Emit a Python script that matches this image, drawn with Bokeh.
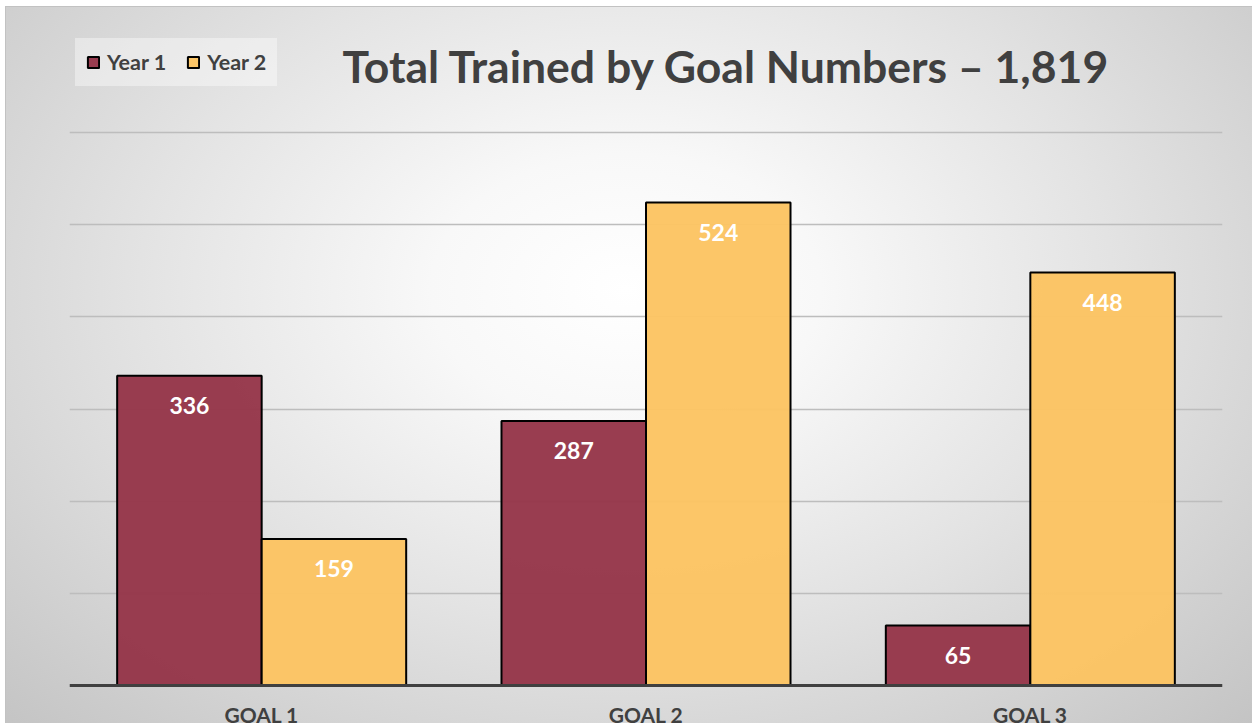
from bokeh.plotting import figure
from bokeh.models import FactorRange, Range1d, FixedTicker, ColumnDataSource, Legend, LegendItem, Label, Span
from bokeh.transform import dodge
from bokeh.core.properties import value
from bokeh.embed import file_html
from bokeh.resources import INLINE

goals = ["GOAL 1", "GOAL 2", "GOAL 3"]
year1 = [336, 287, 65]
year2 = [159, 524, 448]
series_names = ["Year 1", "Year 2"]
title_text = "Total Trained by Goal Numbers \u2013 1,819"
y_ticks = [0, 100, 200, 300, 400, 500, 600]

MAROON = "#953549"
GOLD = "#fcc462"
DARK = "#404040"
FONT = "Lato"

W, H = 1252, 723
AXIS_Y = 685          # pixel row of the value 0
TOP_Y = 132           # pixel row of the value 600
k = (AXIS_Y - TOP_Y) / 600.0

src = ColumnDataSource(dict(goal=goals, y1=year1, y2=year2, zero=[0] * len(goals),
                            t1=[str(v) for v in year1], t2=[str(v) for v in year2]))

p = figure(x_range=FactorRange(*goals, range_padding=0),
           y_range=Range1d(-(H - AXIS_Y) / k, AXIS_Y / k),
           width=W, height=H, output_backend="svg", toolbar_location=None,
           min_border_left=69, min_border_right=30, min_border_top=0, min_border_bottom=0)

p.styles = {"background": (
    "linear-gradient(#ffffff,#ffffff) 0 0/100% 6px no-repeat, "
    "linear-gradient(#ffffff,#ffffff) 0 0/5px 100% no-repeat, "
    "linear-gradient(#c2c2c2,#c2c2c2) 5px 6px/100% 1px no-repeat, "
    "linear-gradient(#c2c2c2,#c2c2c2) 5px 6px/1px 100% no-repeat, "
    "radial-gradient(ellipse farthest-corner at 50% 40%, #ffffff 0%, #f8f8f8 22%, #e3e3e3 55%, #c4c4c4 100%)")}
p.border_fill_color = None
p.background_fill_color = None
p.outline_line_color = None

p.xaxis.visible = False
p.yaxis.visible = False
p.ygrid.ticker = FixedTicker(ticks=y_ticks)
p.ygrid.grid_line_color = "#bdbdbd"
p.ygrid.grid_line_width = 1.5
p.xgrid.visible = False

bw = 0.376
r1 = p.vbar(x=dodge("goal", -bw / 2, range=p.x_range), top="y1", width=bw, source=src,
            fill_color=MAROON, fill_alpha=0.96, line_color="black", line_width=2)
r2 = p.vbar(x=dodge("goal", bw / 2, range=p.x_range), top="y2", width=bw, source=src,
            fill_color=GOLD, fill_alpha=0.96, line_color="black", line_width=2)

for col, tcol, off in (("y1", "t1", -bw / 2), ("y2", "t2", bw / 2)):
    p.text(x=dodge("goal", off, range=p.x_range), y=col, text=tcol, source=src,
           text_align="center", text_baseline="middle", y_offset=30,
           text_color="white", text_font=value(FONT), text_font_style="bold",
           text_font_size="23px")

# category axis line and labels
p.add_layout(Span(location=0, dimension="width", line_color=DARK, line_width=3))
p.text(x="goal", y="zero", text="goal", source=src, text_align="center",
       text_baseline="middle", y_offset=29, text_color=DARK,
       text_font=value(FONT), text_font_style="bold", text_font_size="21px")

# title
p.add_layout(Label(x=273, y=H - 65, x_units="screen", y_units="screen", text=title_text,
                   text_align="left", text_baseline="alphabetic", text_color=DARK,
                   text_font=FONT, text_font_style="bold", text_font_size="44.5px"))

legend = Legend(items=[LegendItem(label=series_names[0], renderers=[r1]),
                       LegendItem(label=series_names[1], renderers=[r2])],
                orientation="horizontal", location=(6, H - 86),
                label_text_font=FONT, label_text_font_style="bold",
                label_text_font_size="21.5px", label_text_color=DARK,
                glyph_width=14, glyph_height=14, label_standoff=7, spacing=20,
                padding=10, margin=0,
                background_fill_color="white", background_fill_alpha=0.4,
                border_line_color="white", border_line_alpha=0.02, border_line_width=1)
p.add_layout(legend, "center")

open("out.html", "w").write(file_html(p, INLINE))
